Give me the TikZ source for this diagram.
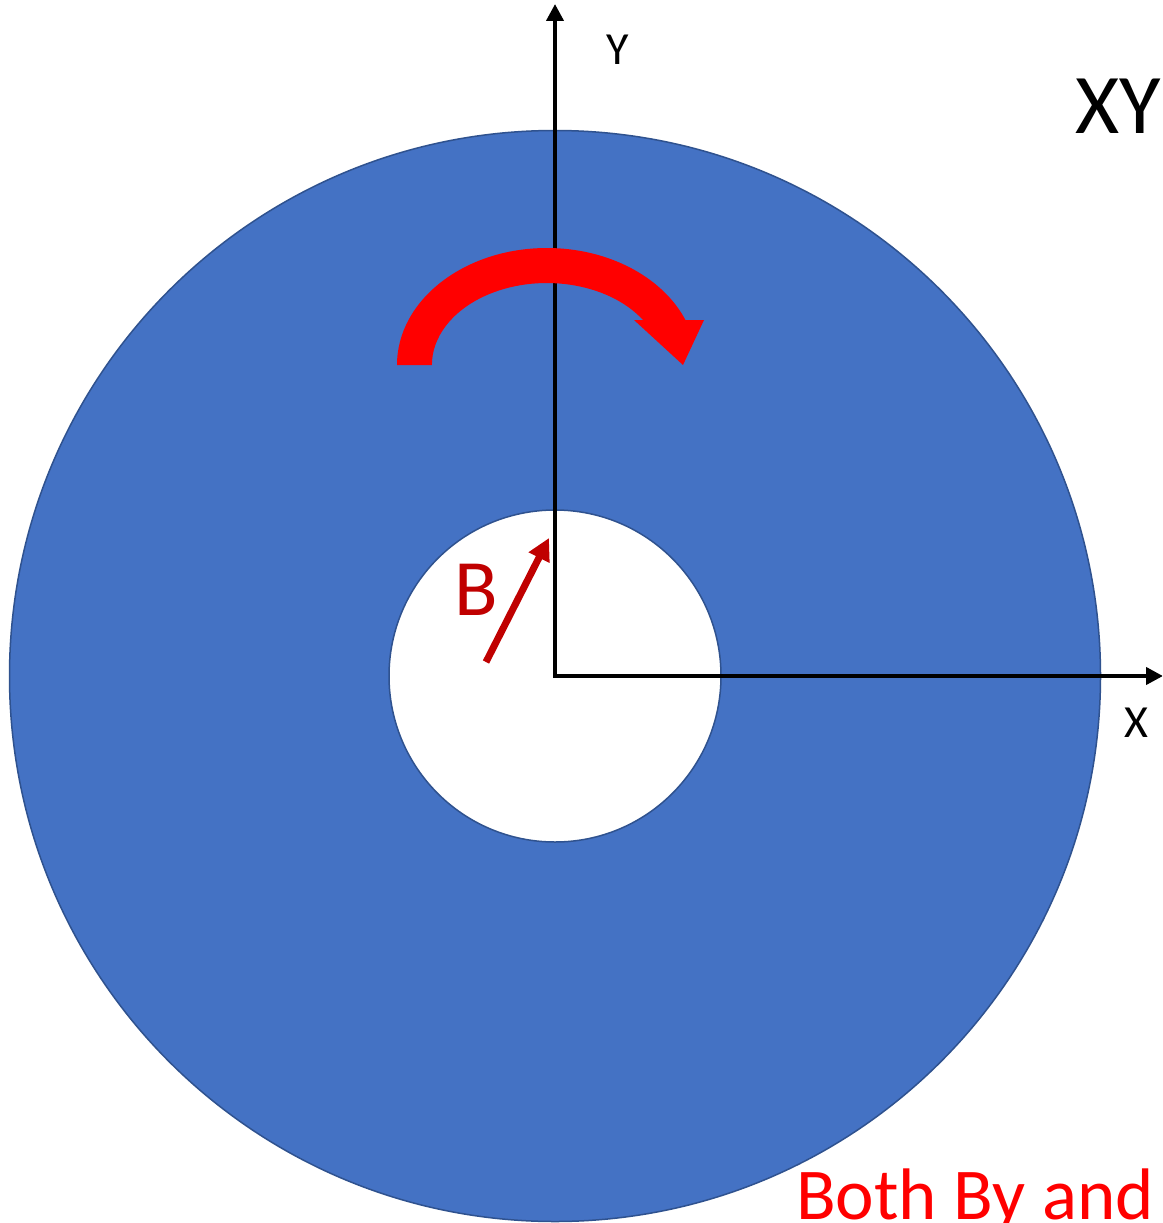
\documentclass[tikz,border=0pt]{standalone}
\usepackage{fontspec}
\setmainfont{Carlito}
\usetikzlibrary{arrows.meta}
\definecolor{diskblue}{HTML}{4472C4}
\definecolor{diskedge}{HTML}{2F528F}
\definecolor{darkred}{HTML}{C00000}
\tikzset{
  disk/.style={circle, draw=diskedge, line width=1.5pt, inner sep=0pt},
  axis/.style={line width=4pt, {Triangle[length=17pt,width=17pt]}-{Triangle[length=17pt,width=17pt]}},
  lbl/.style={inner sep=0pt, anchor=base west},
}
\begin{document}
\begin{tikzpicture}[x=1pt,y=1pt]
\clip (0,0) rectangle (1162,-1223);
\fill[white] (0,0) rectangle (1162,-1223);
% disks
\node[disk, fill=diskblue, minimum size=1091pt] (outer) at (555,-676) {};
\node[disk, fill=white, minimum size=332pt] (inner) at (555,-676) {};
% axes
\coordinate (origin) at (555,-676);
\coordinate (yend) at (555,-4);
\coordinate (xend) at (1163,-676);
\draw[axis] (yend) |- (xend);
\node[lbl, font=\fontsize{46}{50}\selectfont] (ylab) at (606,-65) {Y};
\node[lbl, font=\fontsize{46}{50}\selectfont] (xlab) at (1124,-737) {X};
\node[lbl, font=\fontsize{85}{90}\selectfont] (xy) at (1075,-133) {XY};
% rotation arrow
\fill[red] (397,-365) arc[start angle=180, end angle=22.6, x radius=150, y radius=117]
  -- (704,-320) -- (683,-365) -- (634,-320) -- (643,-320)
  arc[start angle=33.3, end angle=180, x radius=115, y radius=82] -- cycle;
% B vector
\coordinate (btail) at (486,-662);
\coordinate (bhead) at (549,-538);
\draw[darkred, line width=7pt, -{Triangle[length=22pt,width=22pt]}] (btail) -- (bhead);
\node[lbl, text=darkred, font=\fontsize{80}{85}\selectfont] (blab) at (454,-615) {B};
% bottom text
\node[lbl, text=red, font=\fontsize{73}{78}\selectfont] (both) at (796,-1219) {Both By and};
\end{tikzpicture}
\end{document}
